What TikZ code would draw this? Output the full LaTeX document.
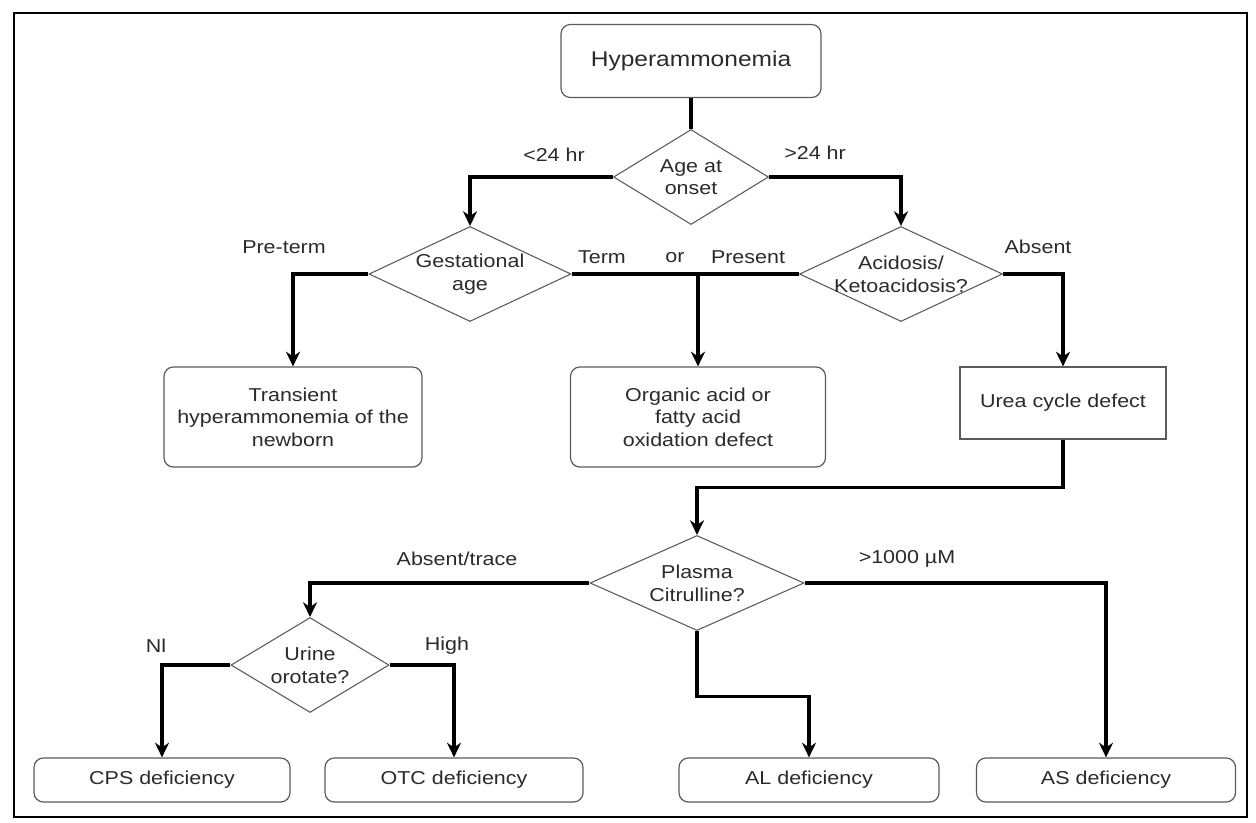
\documentclass[tikz,border=0pt]{standalone}
\usepackage{fontspec}
\setmainfont{Liberation Sans}[FakeStretch=1.15]
\usetikzlibrary{shapes.geometric,arrows.meta,calc}
\definecolor{txt}{HTML}{2A2A2A}
\definecolor{edge}{HTML}{5A5A5A}
\begin{document}
\begin{tikzpicture}[x=0.75pt,y=-0.75pt,
  every node/.style={font=\fontsize{14}{17}\selectfont, text=txt, align=center},
  box/.style 2 args={draw=edge, line width=0.9pt, minimum width=#1*0.75pt, minimum height=#2*0.75pt, inner sep=0pt},
  rbox/.style 2 args={box={#1}{#2}, rounded corners=7pt},
  dec/.style 2 args={diamond, draw=edge, line width=0.8pt, minimum width=#1*0.75pt, minimum height=#2*0.75pt, inner sep=0pt},
  conn/.style={line width=2.3pt, draw=black},
  arr/.style={conn, -{Stealth[length=11pt,width=10.5pt,inset=3.5pt]}},
  lbl/.style={inner sep=0pt}]
\useasboundingbox (0,0) rectangle (1256,822);
\draw[line width=1.5pt] (14,13) rectangle (1247,817);

% nodes
\node[rbox={260}{73}, font=\fontsize{16}{19}\selectfont] (hyper) at (691,61) {Hyperammonemia};
\node[dec={155}{95}, label={[lbl]center:{Age at\\onset}}] (age) at (691,177) {};
\node[dec={202}{95}, label={[lbl]center:{Gestational\\age}}] (gest) at (470,274) {};
\node[dec={203}{95}, label={[lbl]center:{Acidosis/\\Ketoacidosis?}}] (acid) at (901,274) {};
\node[rbox={258}{100}] (trans) at (293,417) {Transient\\hyperammonemia of the\\newborn};
\node[rbox={255}{100}] (organic) at (698,417) {Organic acid or\\fatty acid\\oxidation defect};
\node[box={206}{72}] (urea) at (1063,403) {Urea cycle defect};
\node[dec={214}{95}, label={[lbl]center:{Plasma\\Citrulline?}}] (plasma) at (697,583) {};
\node[dec={158}{95}, label={[lbl]center:{Urine\\orotate?}}] (urine) at (310,665) {};
\node[rbox={256}{44}] (cps) at (162,780) {CPS deficiency};
\node[rbox={258}{44}] (otc) at (454,780) {OTC deficiency};
\node[rbox={260}{44}] (al) at (809,780) {AL deficiency};
\node[rbox={259}{44}] (as) at (1106,780) {AS deficiency};

% edge labels
\node[lbl] (l1) at (554,155) {<24 hr};
\node[lbl] (l2) at (815,153) {>24 hr};
\node[lbl] (l3) at (284,247) {Pre-term};
\node[lbl] (l4) at (602,257) {Term};
\node[lbl] (l5) at (675,258) {or};
\node[lbl] (l6) at (748,257) {Present};
\node[lbl] (l7) at (1038,247) {Absent};
\node[lbl] (l8) at (457,559) {Absent/trace};
\node[lbl] (l9) at (907,559) {>1000 µM};
\node[lbl] (l10) at (156,646) {Nl};
\node[lbl] (l11) at (447,646) {High};

% connectors
\draw[conn] (hyper.south) -- (age.north);
\draw[arr] (age.west) -| (gest.north);
\draw[arr] (age.east) -| (acid.north);
\draw[arr] (gest.west) -| (trans.north);
\draw[conn] (gest.east) -- (acid.west);
\coordinate (jorg) at (organic.north |- gest.east);
\draw[arr] (jorg) -- (organic.north);
\draw[arr] (acid.east) -| (urea.north);
\draw[arr] (urea.south) -- ++(0,48) -| (plasma.north);
\draw[arr] (plasma.west) -| (urine.north);
\draw[arr] (plasma.east) -| (as.north);
\draw[arr] (plasma.south) -- ++(0,65) -| (al.north);
\draw[arr] (urine.west) -| (cps.north);
\draw[arr] (urine.east) -| (otc.north);
\end{tikzpicture}
\end{document}
